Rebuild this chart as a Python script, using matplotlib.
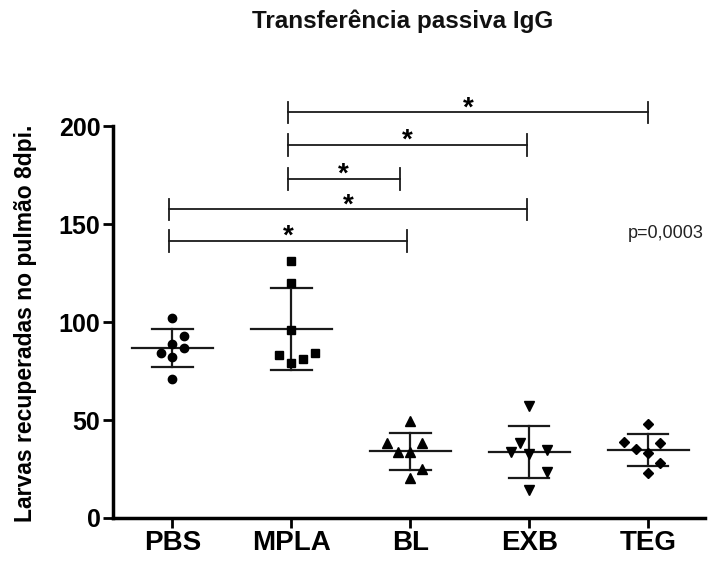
import numpy as np
import matplotlib
matplotlib.use("Agg")
import matplotlib.pyplot as plt

plt.rcParams['font.family'] = ['Liberation Sans', 'DejaVu Sans']

# ---------------------------------------------
# Data
# ---------------------------------------------
groups = ["PBS", "MPLA", "BL", "EXB", "TEG"]
markers = ["o", "s", "^", "v", "D"]

pbs = [102, 93, 89, 84, 87, 82, 71]
mpla = [131, 120, 96, 83, 79, 81, 84]
bl = [49.7, 38.1, 38.1, 33.8, 33.5, 25.0, 20.6]
exb = [57.3, 38.1, 33.8, 32.7, 34.7, 23.6, 14.3]
teg = [48.0, 38.9, 38.1, 35.0, 33.0, 28.2, 22.8]

# horizontal scatter of the points inside each column
jitter_pbs = [0, 0.1, 0, -0.1, 0.1, 0, 0]
jitter_mpla = [0, 0, 0, -0.1, 0, 0.1, 0.2]
jitter_bl = [0, -0.2, 0.1, -0.1, 0, 0.1, 0]
jitter_exb = [0, -0.08, -0.15, 0, 0.15, 0.15, 0]
jitter_teg = [0, -0.2, 0.1, -0.1, 0, 0.1, 0]

# significance brackets: (start, end, height)
brackets = [
    (0.97, 4.0, 207),
    (0.97, 2.98, 190.5),
    (0.97, 1.91, 173),
    (-0.03, 2.98, 157.5),
    (-0.03, 1.97, 141.5),
]

values = [pbs, mpla, bl, exb, teg]
jitters = [jitter_pbs, jitter_mpla, jitter_bl, jitter_exb, jitter_teg]

# ---------------------------------------------
# Figure
# ---------------------------------------------
fig = plt.figure(figsize=(7.17, 5.62), dpi=100)
ax = fig.add_axes([0.1576, 0.0783, 0.826, 0.767])

for i, (vals, jit, m) in enumerate(zip(values, jitters, markers)):
    vals = np.array(vals)
    xs = i + np.array(jit)
    ms = 6 if m in ("o", "s") else 7
    if m == "D":
        ms = 5
    ax.plot(xs, vals, linestyle="none", marker=m, color="black",
            markersize=ms, zorder=3)
    mean = vals.mean()
    sd = vals.std(ddof=1)
    ax.plot([i - 0.34, i + 0.34], [mean, mean], color="#1a1a1a", lw=1.6, zorder=2)
    ax.plot([i, i], [mean - sd, mean + sd], color="#1a1a1a", lw=1.6, zorder=2)
    for cap in (mean - sd, mean + sd):
        ax.plot([i - 0.17, i + 0.17], [cap, cap], color="#1a1a1a", lw=1.6, zorder=2)

for x1, x2, h in brackets:
    ax.plot([x1, x2], [h, h], color="#1a1a1a", lw=1.3, clip_on=False)
    for xe in (x1, x2):
        ax.plot([xe, xe], [h - 5.5, h + 5.5], color="#1a1a1a", lw=1.3, clip_on=False)
    ax.text((x1 + x2) / 2, h - 4.5, "*", ha="center", va="bottom",
            fontsize=20, fontweight="bold", clip_on=False)

ax.text(3.83, 145, "p=0,0003", ha="left", va="center", fontsize=13, color="#222222")

ax.set_xlim(-0.5, 4.48)
ax.set_ylim(0, 220)
ax.set_yticks([0, 50, 100, 150, 200])
ax.set_xticks(range(len(groups)))
ax.set_xticklabels(groups, fontsize=20, fontweight="bold")
for lab in ax.get_yticklabels():
    lab.set_fontsize(18)
    lab.set_fontweight("bold")

ax.spines["top"].set_visible(False)
ax.spines["right"].set_visible(False)
ax.spines["left"].set_bounds(0, 200)
ax.spines["left"].set_linewidth(2.5)
ax.spines["bottom"].set_linewidth(2.5)
ax.tick_params(axis="both", direction="out", length=7, width=2, pad=2)

fig.text(0.562, 0.963, "Transferência passiva IgG", ha="center", va="center",
         fontsize=17.5, fontweight="bold", color="#111111")
fig.text(0.036, 0.425, "Larvas recuperadas no pulmão 8dpi.", ha="center", va="center",
         rotation=90, fontsize=16.5, fontweight="bold")

fig.savefig("out.png", dpi=100)
